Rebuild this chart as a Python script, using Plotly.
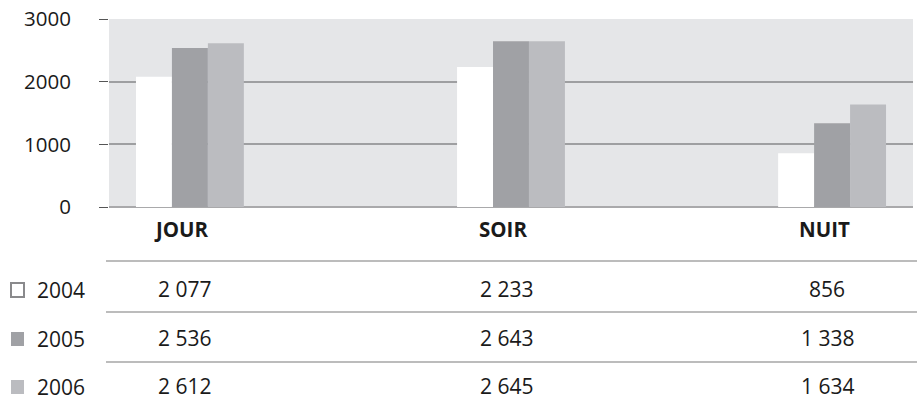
import plotly.graph_objects as go

# Data
periods = ["JOUR", "SOIR", "NUIT"]
years = ["2004", "2005", "2006"]
values_2004 = [2077, 2233, 856]
values_2005 = [2536, 2643, 1338]
values_2006 = [2612, 2645, 1634]
y_ticks = [0, 1000, 2000, 3000]

series = [values_2004, values_2005, values_2006]
bar_colors = ["#FFFFFF", "#A0A1A5", "#BBBCC0"]

FONT = "Open Sans"
TEXT = "#1a1a1a"

# pixel geometry of the plot area (figure is 917x406)
W, H = 917, 406
L, R, T, B = 109, 913, 19, 207


def py(p):
    # pixel row -> paper y
    return (B - p) / (B - T)


def px_(p):
    # pixel column -> paper x
    return (p - L) / (R - L)


fig = go.Figure()
x_pos = list(range(len(periods)))
for year, vals, col in zip(years, series, bar_colors):
    fig.add_trace(go.Bar(x=x_pos, y=vals, name=year, marker_color=col,
                         marker_line_width=0, showlegend=False, hoverinfo="skip"))

annotations = []
shapes = []

# column headers
for i, p in enumerate(periods):
    annotations.append(dict(x=i, y=py(229), xref="x", yref="paper", text=f"<b>{p}</b>",
                            showarrow=False, xshift=-8, yanchor="middle",
                            font=dict(family=FONT, size=20.5, color=TEXT)))

# table rows
row_y = [289, 338, 386]
line_y = [261, 312, 362]
for r, (year, vals, col) in enumerate(zip(years, series, bar_colors)):
    for i, v in enumerate(vals):
        annotations.append(dict(x=i, y=py(row_y[r]), xref="x", yref="paper",
                                text=f"{v:,}".replace(",", " "), showarrow=False,
                                xshift=-5, yanchor="middle",
                                font=dict(family=FONT, size=21, color=TEXT)))
    annotations.append(dict(x=px_(35), y=py(row_y[r] + 1), xref="paper", yref="paper",
                            text=year, showarrow=False, xanchor="left", yanchor="middle",
                            font=dict(family=FONT, size=21, color=TEXT)))
    # legend square
    if r == 0:
        sq_line = dict(color="#8A8A8C", width=2)
    else:
        sq_line = dict(width=0)
    shapes.append(dict(type="rect", xref="paper", yref="paper",
                       x0=px_(11), x1=px_(24), y0=py(row_y[r] - 6), y1=py(row_y[r] + 8),
                       fillcolor=col, line=sq_line))

for ly in line_y:
    shapes.append(dict(type="line", xref="paper", yref="paper",
                       x0=px_(106), x1=px_(917), y0=py(ly), y1=py(ly),
                       line=dict(color="#A6A6A6", width=1.3)))

fig.update_layout(
    width=W, height=H,
    margin=dict(l=L, r=W - R, t=T, b=H - B),
    paper_bgcolor="white",
    plot_bgcolor="#E5E6E8",
    barmode="group",
    bargap=0.664,
    bargroupgap=0,
    font=dict(family=FONT, size=18, color=TEXT),
    xaxis=dict(range=[-0.252, 2.252], showticklabels=False, showgrid=False,
               zeroline=False, showline=False, ticks=""),
    yaxis=dict(range=[0, 3000], tickvals=y_ticks, tickformat="d",
               showgrid=True, gridcolor="#9E9FA1", gridwidth=1.6,
               zeroline=True, zerolinecolor="#A9A9AB", zerolinewidth=2,
               ticks="outside", ticklen=9, tickcolor="#555555", tickwidth=1.4,
               ticklabelstandoff=24,
               tickfont=dict(family=FONT, size=20.5, color=TEXT)),
    annotations=annotations,
    shapes=shapes,
)

# drop the default page margin so the figure sits at the window's corner
fig.write_html("out.html", config={"displayModeBar": False},
               post_script="document.body.style.margin='0';")
